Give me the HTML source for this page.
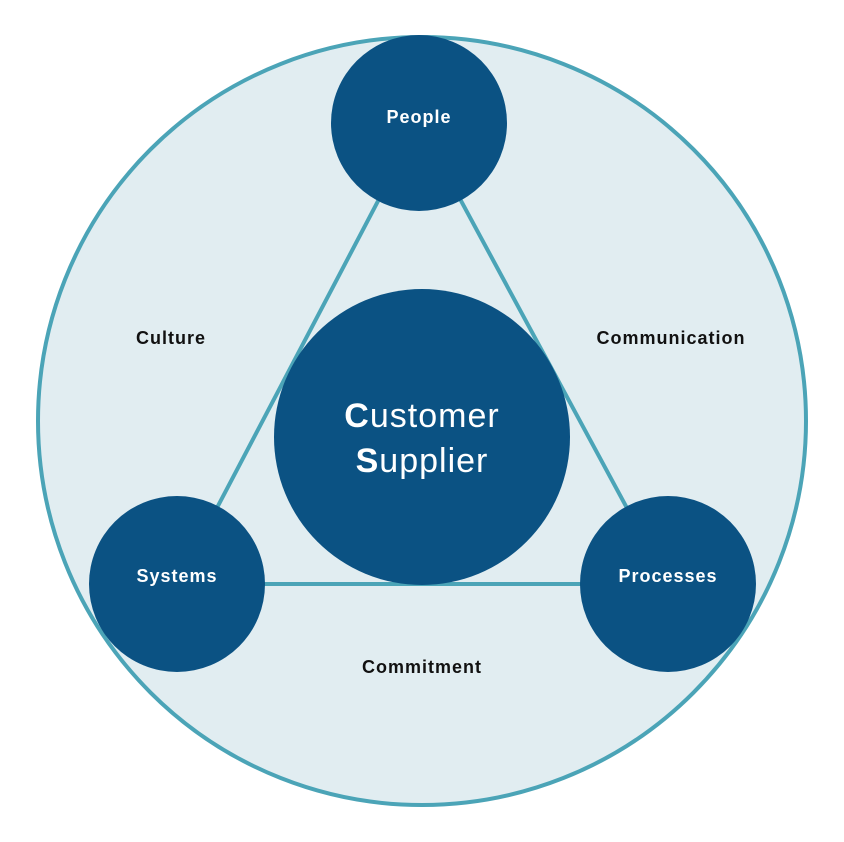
<!DOCTYPE html>
<html><head><style>html,body{margin:0;padding:0;background:#fff}svg{display:block}</style></head>
<body>
<svg width="844" height="842" viewBox="0 0 844 842" xmlns="http://www.w3.org/2000/svg" font-family="Liberation Sans, sans-serif">
<circle cx="422" cy="421" r="384" fill="#e1edf1" stroke="#4ba4b7" stroke-width="4"/>
<g stroke="#4ba4b7" stroke-width="4" fill="none">
<line x1="419" y1="123" x2="177" y2="584"/>
<line x1="419" y1="123" x2="668" y2="584"/>
<line x1="177" y1="584" x2="668" y2="584"/>
</g>
<g fill="#0b5283">
<circle cx="419" cy="123" r="88"/>
<circle cx="177" cy="584" r="88"/>
<circle cx="668" cy="584" r="88"/>
<circle cx="422" cy="437" r="148"/>
</g>
<g fill="#fff" font-weight="bold" font-size="18" text-anchor="middle" letter-spacing="1">
<text x="419" y="123">People</text>
<text x="177" y="582">Systems</text>
<text x="668" y="582">Processes</text>
</g>
<g fill="#fff" font-size="34" text-anchor="middle" letter-spacing="1">
<text x="422" y="427"><tspan font-weight="bold">C</tspan>ustomer</text>
<text x="422" y="472"><tspan font-weight="bold">S</tspan>upplier</text>
</g>
<g fill="#111" font-weight="bold" font-size="18" text-anchor="middle" letter-spacing="1">
<text x="171" y="344">Culture</text>
<text x="671" y="344">Communication</text>
<text x="422" y="673">Commitment</text>
</g>
</svg>
</body></html>
